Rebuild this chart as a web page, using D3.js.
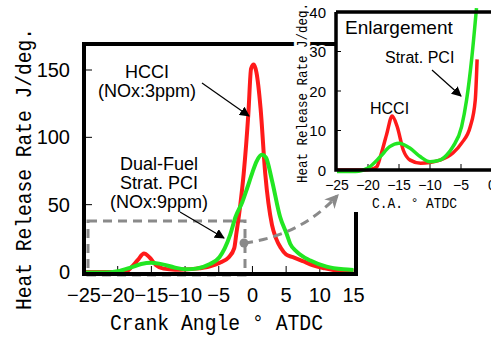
<!DOCTYPE html>
<html>
<head>
<meta charset="utf-8">
<script src="https://cdn.jsdelivr.net/npm/d3@7"></script>
<style>
  body { margin: 0; background: #fff; }
  svg { display: block; }
</style>
</head>
<body>
<svg id="chart" width="491" height="337"></svg>
<script>
// heat release rate traces (crank angle deg ATDC, J/deg)
const hcciAngle = [-25, -21, -19.5, -18.6, -18, -17, -16.1, -15.3, -14.3, -13.2, -11.5, -10, -8.4, -6.3, -4.9, -3.5, -2.7, -2.4, -1.8, -1.3, -0.6, -0.2, 0.2, 0.6, 1.2, 1.9, 2.9, 3.5, 4.2, 5.0, 6.0, 7.5, 9.0, 10.5, 12, 15];
const hcciHrr   = [0, 0, 0.2, 0.8, 3.4, 9, 13.7, 11, 5, 2.5, 1.7, 1.9, 2.5, 4.3, 6.8, 11, 17.7, 28, 50, 73, 118, 151, 154, 148, 122, 73, 35, 25, 18, 13, 11, 8, 5, 3, 1.5, 0.8];
const pciAngle  = [-25, -22, -20, -18, -16.5, -15, -13.2, -11.6, -10, -8.4, -7.3, -6.3, -4.9, -4.1, -3.3, -2.5, -1.5, -0.8, 0, 0.6, 1.4, 2.0, 2.9, 4.1, 5.1, 5.6, 6.6, 8.6, 11, 13.5, 15];
const pciHrr    = [-0.4, -0.4, 0.5, 3.4, 5.9, 6.8, 5.5, 3.4, 2.1, 2.5, 3.8, 5.9, 11, 17.7, 27.8, 41, 52, 62, 74, 82, 87, 85, 68, 41, 28, 21, 15, 8.5, 4, 2, 1.5];

const mainXTicks = [-25, -20, -15, -10, -5, 0, 5, 10, 15];
const mainYTicks = [0, 50, 100, 150];
const insetXTicks = [-25, -20, -15, -10, -5, 0];
const insetYTicks = [0, 10, 20, 30, 40];

const RED = '#ff1a1a';
const GREEN = '#22e622';
const GRAY = '#8a8a8a';

const svg = d3.select('#chart');
const sans = '"Liberation Sans", Arial, sans-serif';
const mono = '"Liberation Mono", "DejaVu Sans Mono", monospace';
const fmt = d => d < 0 ? '\u2212' + Math.abs(d) : String(d);

const hcci = hcciAngle.map((a, i) => ({ a, v: hcciHrr[i] }));
const pci = pciAngle.map((a, i) => ({ a, v: pciHrr[i] }));

// arrow heads
const defs = svg.append('defs');
function head(id, color) {
  defs.append('marker')
    .attr('id', id)
    .attr('viewBox', '0 0 10 10')
    .attr('refX', 9).attr('refY', 5)
    .attr('markerWidth', 10).attr('markerHeight', 10)
    .attr('markerUnits', 'userSpaceOnUse')
    .attr('orient', 'auto')
    .append('path').attr('d', 'M0,0 L10,5 L0,10 Z').attr('fill', color);
}
head('ah', '#000');
defs.append('marker')
  .attr('id', 'ahg')
  .attr('viewBox', '0 0 10 10')
  .attr('refX', 8).attr('refY', 5)
  .attr('markerWidth', 14).attr('markerHeight', 14)
  .attr('markerUnits', 'userSpaceOnUse')
  .attr('orient', 'auto')
  .append('path').attr('d', 'M0,0 L10,5 L0,10 L3,5 Z').attr('fill', GRAY);

// ---------- main chart ----------
const x = d3.scaleLinear().domain([-25, 15]).range([84, 353.5]);
const y = d3.scaleLinear().domain([0, 150]).range([272, 70]);
const frame = { left: 84, top: 44, right: 356, bottom: 274 };

const main = svg.append('g');

// inner ticks
main.selectAll('.yt').data(mainYTicks.filter(d => d > 0)).enter().append('line')
  .attr('x1', frame.left).attr('x2', frame.left + 8)
  .attr('y1', d => y(d)).attr('y2', d => y(d))
  .attr('stroke', '#000').attr('stroke-width', 1);
main.selectAll('.xt').data(mainXTicks.slice(1, -1)).enter().append('line')
  .attr('x1', d => x(d)).attr('x2', d => x(d))
  .attr('y1', frame.bottom).attr('y2', frame.bottom - 8)
  .attr('stroke', '#000').attr('stroke-width', 1);

main.selectAll('.yl').data(mainYTicks).enter().append('text')
  .attr('x', 70).attr('y', d => y(d) + 7)
  .attr('text-anchor', 'end')
  .style('font-family', sans).style('font-size', '20px')
  .text(d => d);
main.selectAll('.xl').data(mainXTicks).enter().append('text')
  .attr('x', d => x(d)).attr('y', 302)
  .attr('text-anchor', 'middle')
  .style('font-family', sans).style('font-size', '20px')
  .text(fmt);

// axis titles
main.append('text')
  .attr('transform', 'translate(31,310) rotate(-90)')
  .attr('textLength', 282).attr('lengthAdjust', 'spacingAndGlyphs')
  .style('font-family', mono).style('font-size', '22px')
  .text('Heat Release Rate  J/deg.');
main.append('text')
  .attr('x', 110).attr('y', 330)
  .attr('textLength', 213).attr('lengthAdjust', 'spacingAndGlyphs')
  .style('font-family', mono).style('font-size', '22px')
  .text('Crank Angle  \u00b0 ATDC');

// zoom window marker
main.append('rect')
  .attr('x', 88).attr('y', 221)
  .attr('width', 245 - 88).attr('height', 275 - 221)
  .attr('fill', 'none').attr('stroke', GRAY).attr('stroke-width', 3)
  .attr('stroke-dasharray', '9,6');

const line = d3.line().x(d => x(d.a)).y(d => y(d.v)).curve(d3.curveMonotoneX);
main.append('path').datum(hcci).attr('d', line)
  .attr('fill', 'none').attr('stroke', RED).attr('stroke-width', 4).attr('stroke-linejoin', 'round');
main.append('path').datum(pci).attr('d', line)
  .attr('fill', 'none').attr('stroke', GREEN).attr('stroke-width', 4).attr('stroke-linejoin', 'round');

// frame
main.append('rect')
  .attr('x', frame.left).attr('y', frame.top)
  .attr('width', frame.right - frame.left).attr('height', frame.bottom - frame.top)
  .attr('fill', 'none').attr('stroke', '#000').attr('stroke-width', 4);

// annotations
function label(g, lines, cx, y0, dy, size) {
  lines.forEach((t, i) => g.append('text')
    .attr('x', cx).attr('y', y0 + i * dy)
    .attr('text-anchor', 'middle')
    .style('font-family', sans).style('font-size', size + 'px')
    .text(t));
}
label(main, ['HCCI', '(NOx:3ppm)'], 147, 78, 19, 18);
label(main, ['Dual-Fuel', 'Strat. PCI', '(NOx:9ppm)'], 159, 170, 19, 18);
main.append('line').attr('x1', 202).attr('y1', 83).attr('x2', 249).attr('y2', 116)
  .attr('stroke', '#000').attr('stroke-width', 1.2).attr('marker-end', 'url(#ah)');
main.append('line').attr('x1', 180).attr('y1', 212).attr('x2', 224).attr('y2', 238)
  .attr('stroke', '#000').attr('stroke-width', 1.2).attr('marker-end', 'url(#ah)');

// ---------- inset (enlargement) ----------
const ix = d3.scaleLinear().domain([-25, 0]).range([337, 492]);
const iy = d3.scaleLinear().domain([0, 40]).range([170, 12]);
const inset = svg.append('g');

inset.append('rect').attr('x', 337).attr('y', 0).attr('width', 160).attr('height', 212).attr('fill', '#fff');

inset.append('text')
  .attr('transform', 'translate(307,183) rotate(-90)')
  .attr('textLength', 180).attr('lengthAdjust', 'spacingAndGlyphs')
  .attr('stroke', '#fff').attr('stroke-width', 6).attr('paint-order', 'stroke')
  .style('font-family', mono).style('font-size', '15px')
  .text('Heat Release Rate J/deg.');

inset.selectAll('.iyl').data(insetYTicks).enter().append('text')
  .attr('x', 326).attr('y', d => iy(d) + 5.5)
  .attr('text-anchor', 'end')
  .attr('stroke', '#fff').attr('stroke-width', 4).attr('paint-order', 'stroke')
  .style('font-family', sans).style('font-size', '15px')
  .text(d => d);
inset.selectAll('.ixl').data(insetXTicks).enter().append('text')
  .attr('x', d => ix(d)).attr('y', 190)
  .attr('text-anchor', 'middle')
  .style('font-family', sans).style('font-size', '14px')
  .text(fmt);
inset.append('text')
  .attr('x', 372).attr('y', 208)
  .attr('textLength', 85).attr('lengthAdjust', 'spacingAndGlyphs')
  .style('font-family', mono).style('font-size', '15px')
  .text('C.A.  \u00b0  ATDC');

inset.selectAll('.iyt').data(insetYTicks.slice(1, -1)).enter().append('line')
  .attr('x1', 336).attr('x2', 341).attr('y1', d => iy(d)).attr('y2', d => iy(d))
  .attr('stroke', '#000').attr('stroke-width', 1);
inset.selectAll('.ixt').data(insetXTicks.slice(1, -1)).enter().append('line')
  .attr('x1', d => ix(d)).attr('x2', d => ix(d)).attr('y1', 170).attr('y2', 164)
  .attr('stroke', '#000').attr('stroke-width', 1);

const iline = d3.line().x(d => ix(d.a)).y(d => iy(d.v)).curve(d3.curveMonotoneX);
inset.append('path').datum(hcci.filter(d => d.a <= -2.4)).attr('d', iline)
  .attr('fill', 'none').attr('stroke', RED).attr('stroke-width', 3.5);
inset.append('path').datum(pci.filter(d => d.a <= -2.4)).attr('d', iline)
  .attr('fill', 'none').attr('stroke', GREEN).attr('stroke-width', 3.5);

inset.append('path')
  .attr('d', 'M336,12 L491,12 M336,12 L336,170 L491,170')
  .attr('fill', 'none').attr('stroke', '#000').attr('stroke-width', 3.5);

inset.append('text').attr('x', 345).attr('y', 34)
  .style('font-family', sans).style('font-size', '19px').text('Enlargement');
inset.append('text').attr('x', 385).attr('y', 63)
  .style('font-family', sans).style('font-size', '16px').text('Strat. PCI');
inset.append('text').attr('x', 370).attr('y', 114)
  .style('font-family', sans).style('font-size', '16px').text('HCCI');
inset.append('line').attr('x1', 432).attr('y1', 70).attr('x2', 461).attr('y2', 96)
  .attr('stroke', '#000').attr('stroke-width', 1.2).attr('marker-end', 'url(#ah)');

// dashed pointer from the zoom window to the inset
svg.append('circle').attr('cx', 244).attr('cy', 243).attr('r', 4.5).attr('fill', GRAY);
svg.append('path')
  .attr('d', 'M244,243 Q300,236 337,196')
  .attr('fill', 'none').attr('stroke', GRAY).attr('stroke-width', 3)
  .attr('stroke-dasharray', '9,6').attr('marker-end', 'url(#ahg)');
</script>
</body>
</html>
